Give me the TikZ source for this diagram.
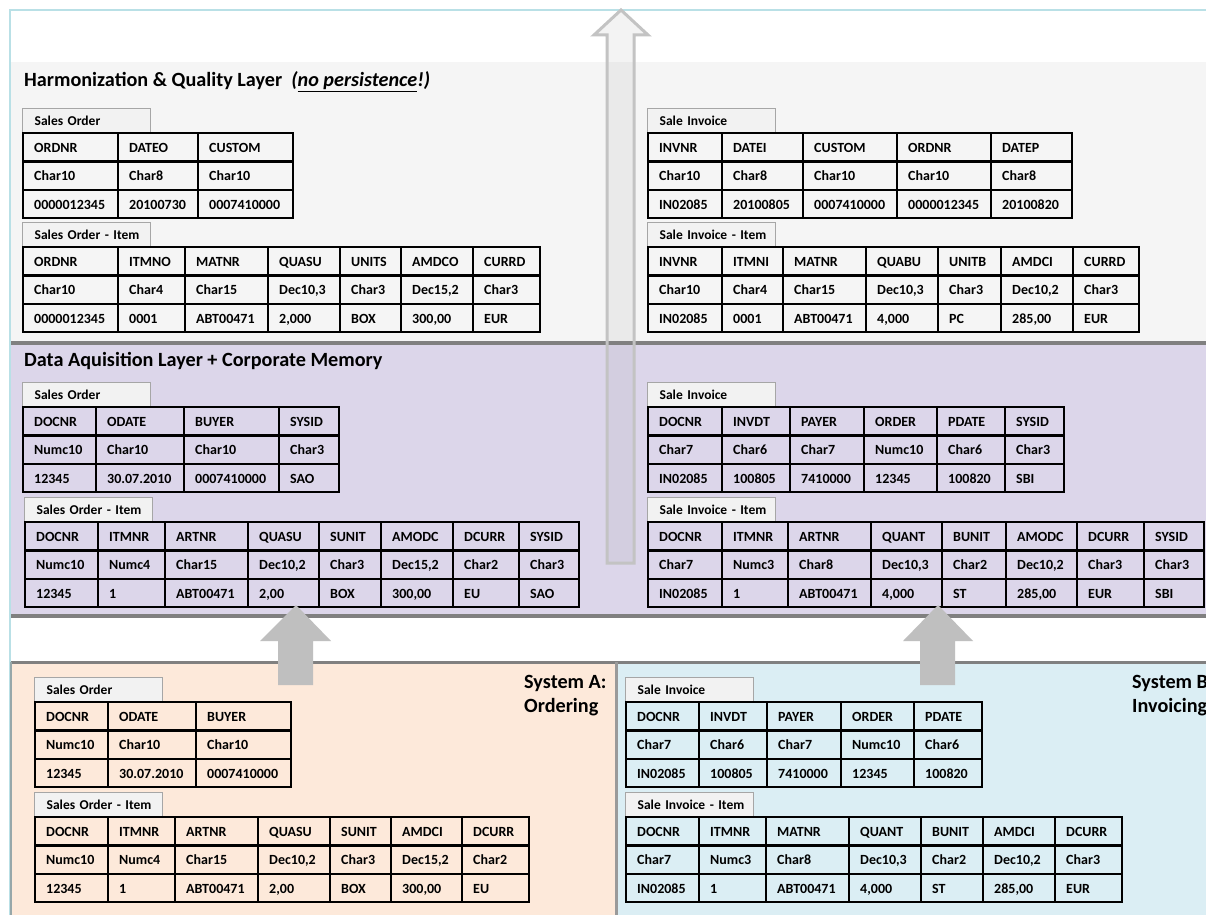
\documentclass[tikz,border=0pt]{standalone}
\usepackage{fontspec}
\setmainfont{Carlito}
\definecolor{framecol}{HTML}{B9E0E6}
\definecolor{harmbg}{HTML}{F5F5F5}
\definecolor{acqbg}{HTML}{DCD6EA}
\definecolor{sepcol}{HTML}{808080}
\definecolor{sysAcol}{HTML}{FDE9DA}
\definecolor{sysBcol}{HTML}{DBEEF4}
\definecolor{tabfill}{HTML}{F2F2F2}
\definecolor{tabline}{HTML}{A6A6A6}
\definecolor{arrowfill}{HTML}{BFBFBF}
\definecolor{bigline}{HTML}{C3C3C3}
\newcommand\dbtable[6]{%
  \node[tabbox, anchor=south west] (#1-tab) at ({#3-1},{#4}) {\hspace*{6pt}#2};
  \foreach \cx/\ca/\cb/\cc [count=\ci] in {#6}{%
    \node[cell] (#1-\ci-1) at ({\cx+11},{#4+19.5}) {\ca};
    \node[cell] (#1-\ci-2) at ({\cx+11},{#4+47.8}) {\cb};
    \node[cell] (#1-\ci-3) at ({\cx+11},{#4+76.1}) {\cc};
    \draw[tline] (\cx,#4) -- (\cx,{#4+85});
  }
  \draw[tline] (#3,#4) rectangle (#5,{#4+85});
  \draw[tline] (#3,{#4+28.3}) -- (#5,{#4+28.3});
  \draw[tline] (#3,{#4+56.7}) -- (#5,{#4+56.7});
}
\begin{document}
\begin{tikzpicture}[x={(1pt,0)}, y={(0,-1pt)},
  cell/.style={anchor=base west, inner sep=0pt, font=\bfseries\fontsize{14}{16}\selectfont},
  tabbox/.style={draw=tabline, fill=tabfill, line width=1.3pt, text width=116pt, inner xsep=6pt, inner ysep=0pt,
     minimum height=24pt, align=left, font=\bfseries\fontsize{13.5}{15}\selectfont},
  tline/.style={draw=black, line width=2.4pt, line cap=rect},
  layertitle/.style={anchor=base west, inner sep=0pt, font=\bfseries\fontsize{20.2}{24}\selectfont},
  smallarrow/.style={fill=arrowfill, draw=none},
  bigarrow/.style={draw=bigline, line width=3pt, fill=gray, fill opacity=0.09, line join=miter}]
\useasboundingbox (0,0) rectangle (1206,915);
\clip (0,0) rectangle (1206,915);
\fill[white] (0,0) rectangle (1206,915);
% layer backgrounds
\fill[harmbg] (10,62) rectangle (1206,343);
\fill[acqbg] (10,343) rectangle (1206,616);
\fill[sysAcol] (10,662) rectangle (616,915);
\fill[sysBcol] (616,662) rectangle (1206,915);
\draw[sepcol, line width=4pt] (10,343) -- (1206,343);
\draw[sepcol, line width=4pt] (10,616) -- (1206,616);
\draw[sepcol, line width=3pt] (10,662) -- (1206,662);
\draw[sepcol!80, line width=3pt] (616,662) -- (616,915);
\draw[framecol, line width=2pt] (10,915) -- (10,10) -- (1206,10);
\draw[sepcol!60!framecol, line width=2pt] (11,662) -- (11,915);
% big hollow arrow
\draw[bigarrow] (607,563) -- (607,35) -- (594,35) -- (621,10) -- (648,35) -- (634,35) -- (634,563) -- cycle;
% titles
\node[layertitle] (harmtitle) at (24,87) {Harmonization \& Quality Layer~~{\itshape(\underline{no persistence}!)}};
\node[layertitle] (acqtitle) at (24,366) {Data Aquisition Layer + Corporate Memory};
\node[layertitle] (sysA1) at (524,688) {System A:};
\node[layertitle] (sysA2) at (524,712) {Ordering};
\node[layertitle] (sysB1) at (1132,688) {System B:};
\node[layertitle] (sysB2) at (1132,712) {Invoicing};
% harmonization layer
\dbtable{hso}{Sales Order}{23}{133}{293}{23/ORDNR/Char10/0000012345, 118/DATEO/Char8/20100730, 198/CUSTOM/Char10/0007410000}
\dbtable{hsoi}{Sales Order - Item}{23}{247}{540}{23/ORDNR/Char10/0000012345, 118/ITMNO/Char4/0001, 185/MATNR/Char15/ABT00471, 268/QUASU/{Dec10,3}/{2,000}, 340/UNITS/Char3/BOX, 401/AMDCO/{Dec15,2}/{300,00}, 473/CURRD/Char3/EUR}
\dbtable{hsi}{Sale Invoice}{648}{133}{1072}{648/INVNR/Char10/IN02085, 722/DATEI/Char8/20100805, 803/CUSTOM/Char10/0007410000, 897/ORDNR/Char10/0000012345, 991/DATEP/Char8/20100820}
\dbtable{hsii}{Sale Invoice - Item}{648}{247}{1139}{648/INVNR/Char10/IN02085, 722/ITMNI/Char4/0001, 783/MATNR/Char15/ABT00471, 866/QUABU/{Dec10,3}/{4,000}, 938/UNITB/Char3/PC, 1001/AMDCI/{Dec10,2}/{285,00}, 1073/CURRD/Char3/EUR}
% acquisition layer
\dbtable{aso}{Sales Order}{23}{407}{339}{23/DOCNR/Numc10/12345, 96/ODATE/Char10/30.07.2010, 184/BUYER/Char10/0007410000, 279/SYSID/Char3/SAO}
\dbtable{asoi}{Sales Order - Item}{25}{522}{579}{25/DOCNR/Numc10/12345, 98/ITMNR/Numc4/1, 165/ARTNR/Char15/ABT00471, 248/QUASU/{Dec10,2}/{2,00}, 319/SUNIT/Char3/BOX, 381/AMODC/{Dec15,2}/{300,00}, 453/DCURR/Char2/EU, 519/SYSID/Char3/SAO}
\dbtable{asi}{Sale Invoice}{648}{407}{1064}{648/DOCNR/Char7/IN02085, 722/INVDT/Char6/100805, 790/PAYER/Char7/7410000, 864/ORDER/Numc10/12345, 937/PDATE/Char6/100820, 1005/SYSID/Char3/SBI}
\dbtable{asii}{Sale Invoice - Item}{648}{522}{1204}{648/DOCNR/Char7/IN02085, 722/ITMNR/Numc3/1, 788/ARTNR/Char8/ABT00471, 871/QUANT/{Dec10,3}/{4,000}, 942/BUNIT/Char2/ST, 1006/AMODC/{Dec10,2}/{285,00}, 1077/DCURR/Char3/EUR, 1144/SYSID/Char3/SBI}
% source systems
\dbtable{sso}{Sales Order}{35}{702}{291}{35/DOCNR/Numc10/12345, 108/ODATE/Char10/30.07.2010, 196/BUYER/Char10/0007410000}
\dbtable{ssoi}{Sales Order - Item}{35}{817}{529}{35/DOCNR/Numc10/12345, 108/ITMNR/Numc4/1, 175/ARTNR/Char15/ABT00471, 258/QUASU/{Dec10,2}/{2,00}, 330/SUNIT/Char3/BOX, 391/AMDCI/{Dec15,2}/{300,00}, 462/DCURR/Char2/EU}
\dbtable{ssi}{Sale Invoice}{626}{702}{982}{626/DOCNR/Char7/IN02085, 699/INVDT/Char6/100805, 767/PAYER/Char7/7410000, 841/ORDER/Numc10/12345, 914/PDATE/Char6/100820}
\dbtable{ssii}{Sale Invoice - Item}{626}{817}{1122}{626/DOCNR/Char7/IN02085, 699/ITMNR/Numc3/1, 766/MATNR/Char8/ABT00471, 849/QUANT/{Dec10,3}/{4,000}, 921/BUNIT/Char2/ST, 983/AMDCI/{Dec10,2}/{285,00}, 1055/DCURR/Char3/EUR}
% upward arrows from source systems
\fill[smallarrow] (278,685) -- (278,641) -- (260,641) -- (296,605) -- (331,641) -- (313,641) -- (313,685) -- cycle;
\fill[smallarrow] (920,685) -- (920,641) -- (903,641) -- (938,605) -- (973,641) -- (955,641) -- (955,685) -- cycle;
\end{tikzpicture}
\end{document}
